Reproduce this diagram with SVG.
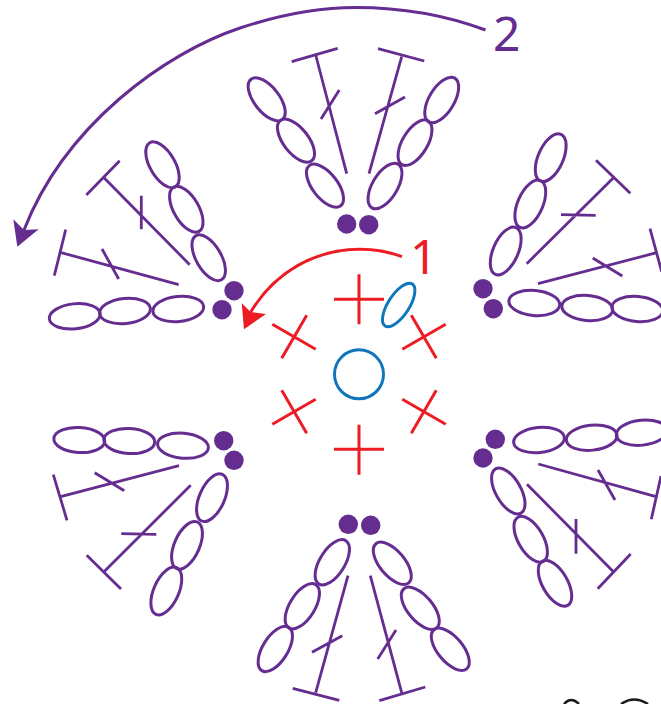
<svg xmlns="http://www.w3.org/2000/svg" width="661" height="704" viewBox="0 0 661 704">
<style>
.e{fill:none;stroke:#662d91;stroke-width:3}
.l{fill:none;stroke:#662d91;stroke-width:2.8;stroke-linecap:butt}
.d{fill:#662d91}
.r{fill:none;stroke:#ed1c24;stroke-width:3}
.b{fill:none;stroke:#0f75bc;stroke-width:3}
.t{font-family:"Noto Sans","Open Sans",sans-serif;font-size:48px}
</style>
<rect width="661" height="704" fill="#fff"/>
<g id="connectors">
<path d="M485.5,30 C445,15 400,7.5 356,7.5 C316,7.5 276,16 240,28 C165,53 65,125 24,230" fill="none" stroke="#662d91" stroke-width="3"/>
<polygon points="17.3,246.7 13.3,219.3 24,230 38.7,229.3" fill="#662d91"/>
<path d="M402,256.7 C388,251.5 374,249.3 360,249.3 C315,249.3 275,272 250.7,312" fill="none" stroke="#ed1c24" stroke-width="3"/>
<polygon points="244,329.3 241.7,303.3 250.7,312 266,314" fill="#ed1c24"/>
</g>
<g id="label-1"><text class="t" x="410" y="274" fill="#ed1c24">1</text></g>
<g id="label-2"><text class="t" x="493" y="51" fill="#662d91">2</text></g>
<g id="center">
<circle class="b" cx="359" cy="374.3" r="24.5"/>
<ellipse class="b" cx="398.7" cy="305" rx="25" ry="10.5" transform="rotate(-57 398.7 305)"/>
<path class="r" d="M334,299.3H384M359,274.3V324.3M334,449.3H384M359,424.7V474.7M272.3,324.3L315.7,349.3M306.7,315.3L281.7,358.3M445.7,324.3L402.3,349.3M411.3,315.3L436.3,358.3M272.3,424.3L315.7,399.3M281.7,390.3L306.7,433.3M445.7,424.3L402.3,399.3M436.3,390.3L411.3,433.3"/>
</g>
<g id="cluster-top">
<circle class="d" cx="346.7" cy="224" r="9.7"/><circle class="d" cx="368.7" cy="224.7" r="9.7"/>
<ellipse class="e" cx="266.7" cy="99.3" rx="25.5" ry="12.5" transform="rotate(52 266.7 99.3)"/>
<ellipse class="e" cx="296" cy="140.7" rx="25.5" ry="12.5" transform="rotate(52 296 140.7)"/>
<ellipse class="e" cx="325" cy="185.7" rx="25.5" ry="12.5" transform="rotate(52 325 185.7)"/>
<ellipse class="e" cx="441.7" cy="100" rx="25.5" ry="12.5" transform="rotate(-59 441.7 100)"/>
<ellipse class="e" cx="415" cy="142.7" rx="25.5" ry="12.5" transform="rotate(-59 415 142.7)"/>
<ellipse class="e" cx="385" cy="186" rx="25.5" ry="12.5" transform="rotate(-59 385 186)"/>
<path class="l" d="M346.7,173.7L315.7,55M291.7,61.7L337.7,48.3M321,119L339.3,90"/>
<path class="l" d="M369,173.7L401.7,56.7M378,48.7L424.3,61M375,113.7L405,97"/>
</g>
<g id="cluster-upper-left">
<circle class="d" cx="234" cy="290.7" r="9.7"/><circle class="d" cx="222" cy="309.7" r="9.7"/>
<ellipse class="e" cx="162.5" cy="164.8" rx="25.5" ry="12.5" transform="rotate(60 162.5 164.8)"/>
<ellipse class="e" cx="186.3" cy="209.3" rx="25.5" ry="12.5" transform="rotate(60 186.3 209.3)"/>
<ellipse class="e" cx="208.7" cy="257.7" rx="25.5" ry="12.5" transform="rotate(60 208.7 257.7)"/>
<ellipse class="e" cx="74.7" cy="316.3" rx="25.5" ry="12.5" transform="rotate(-6 74.7 316.3)"/>
<ellipse class="e" cx="125" cy="311" rx="25.5" ry="12.5" transform="rotate(-6 125 311)"/>
<ellipse class="e" cx="178.3" cy="309" rx="25.5" ry="12.5" transform="rotate(-6 178.3 309)"/>
<path class="l" d="M189.7,264.7L104,177.7M86.3,195L119.7,160.7M141.3,195.7V229.3"/>
<path class="l" d="M178.7,284.7L60,252.3M65.7,229.7L54.3,275.7M102,249L118.7,279"/>
</g>
<g id="cluster-upper-right">
<circle class="d" cx="483" cy="288.7" r="9.7"/><circle class="d" cx="493.3" cy="308.7" r="9.7"/>
<ellipse class="e" cx="550.7" cy="157.7" rx="25.5" ry="12.5" transform="rotate(-66 550.7 157.7)"/>
<ellipse class="e" cx="530.3" cy="204" rx="25.5" ry="12.5" transform="rotate(-66 530.3 204)"/>
<ellipse class="e" cx="505.7" cy="251" rx="25.5" ry="12.5" transform="rotate(-66 505.7 251)"/>
<ellipse class="e" cx="534.3" cy="303" rx="25.5" ry="12.5" transform="rotate(5 534.3 303)"/>
<ellipse class="e" cx="587.3" cy="308" rx="25.5" ry="12.5" transform="rotate(5 587.3 308)"/>
<ellipse class="e" cx="637.3" cy="309" rx="25.5" ry="12.5" transform="rotate(5 637.3 309)"/>
<path class="l" d="M526.7,263.7L613,178.3M596,160.3L630.3,193.3M561,214.7L595.7,215.3"/>
<path class="l" d="M538,283.7L656.7,252.7M650,228.7L661.7,271.7M592.7,258L622.3,276"/>
</g>
<g id="cluster-lower-left">
<circle class="d" cx="223.7" cy="440.7" r="9.7"/><circle class="d" cx="234" cy="460.3" r="9.7"/>
<ellipse class="e" cx="79.3" cy="440" rx="25.5" ry="12.5" transform="rotate(3 79.3 440)"/>
<ellipse class="e" cx="129.3" cy="441" rx="25.5" ry="12.5" transform="rotate(3 129.3 441)"/>
<ellipse class="e" cx="183" cy="445.7" rx="25.5" ry="12.5" transform="rotate(5 183 445.7)"/>
<ellipse class="e" cx="212" cy="497.7" rx="25.5" ry="12.5" transform="rotate(-66 212 497.7)"/>
<ellipse class="e" cx="187" cy="545.3" rx="25.5" ry="12.5" transform="rotate(-66 187 545.3)"/>
<ellipse class="e" cx="166.3" cy="591" rx="25.5" ry="12.5" transform="rotate(-66 166.3 591)"/>
<path class="l" d="M179,465.7L60.7,496.7M53.3,474.7L67,520.3M94.7,472.7L124.3,490.7"/>
<path class="l" d="M190.7,485.3L104,571.7M86.7,555.3L121,589M121.3,533.7L156.3,534.3"/>
</g>
<g id="cluster-lower-right">
<circle class="d" cx="495.3" cy="439.3" r="9.7"/><circle class="d" cx="483" cy="458" r="9.7"/>
<ellipse class="e" cx="539" cy="440" rx="25.5" ry="12.5" transform="rotate(-6 539 440)"/>
<ellipse class="e" cx="591.7" cy="437.7" rx="25.5" ry="12.5" transform="rotate(-6 591.7 437.7)"/>
<ellipse class="e" cx="641.7" cy="432.7" rx="25.5" ry="12.5" transform="rotate(-6 641.7 432.7)"/>
<ellipse class="e" cx="508.3" cy="491" rx="25.5" ry="12.5" transform="rotate(60 508.3 491)"/>
<ellipse class="e" cx="530.7" cy="539.3" rx="25.5" ry="12.5" transform="rotate(60 530.7 539.3)"/>
<ellipse class="e" cx="555" cy="583.3" rx="25.5" ry="12.5" transform="rotate(60 555 583.3)"/>
<path class="l" d="M538.3,464L656,496.7M661,476L651.3,519.3M598,470L615,500"/>
<path class="l" d="M527,484.3L612.7,571M630.7,554L597.7,588.7M576,519V553.7"/>
</g>
<g id="cluster-bottom">
<circle class="d" cx="348.3" cy="524.3" r="9.7"/><circle class="d" cx="370.7" cy="525.3" r="9.7"/>
<ellipse class="e" cx="332.3" cy="562.3" rx="25.5" ry="12.5" transform="rotate(-58 332.3 562.3)"/>
<ellipse class="e" cx="302.3" cy="606.3" rx="25.5" ry="12.5" transform="rotate(-58 302.3 606.3)"/>
<ellipse class="e" cx="275.3" cy="649" rx="25.5" ry="12.5" transform="rotate(-58 275.3 649)"/>
<ellipse class="e" cx="392.3" cy="563.3" rx="25.5" ry="12.5" transform="rotate(50 392.3 563.3)"/>
<ellipse class="e" cx="420.3" cy="608.3" rx="25.5" ry="12.5" transform="rotate(50 420.3 608.3)"/>
<ellipse class="e" cx="450.3" cy="649.3" rx="25.5" ry="12.5" transform="rotate(50 450.3 649.3)"/>
<path class="l" d="M348,575.7L315.7,692.7M292.7,688.3L339.3,700.3M312,652.3L342.3,635.7"/>
<path class="l" d="M370.3,575.7L401.7,692.7M379.3,700.7L425.3,687M377.7,659L396,630"/>
</g>
<g id="corner-fragments">
<path d="M564,704Q571,696 579,704M621,704Q634,695 648,704" fill="none" stroke="#1a1a1a" stroke-width="2.5"/>
</g>
</svg>
